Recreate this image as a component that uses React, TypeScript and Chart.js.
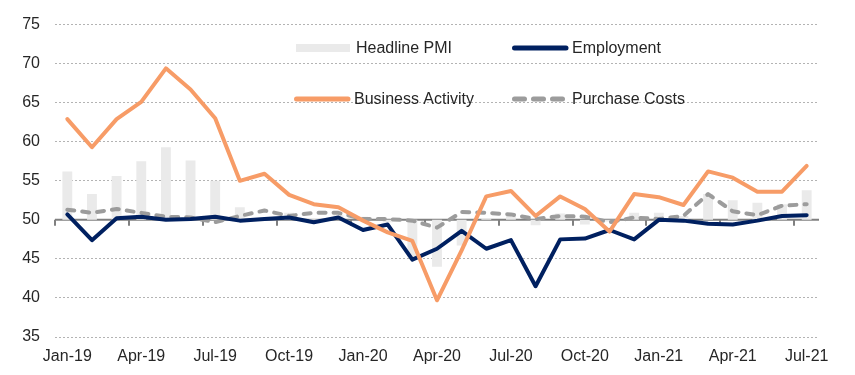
import React, { useEffect, useRef } from "react";
import { Chart, registerables } from "chart.js";

Chart.register(...registerables);

const categories = [
  "Jan-19", "Feb-19", "Mar-19", "Apr-19", "May-19", "Jun-19", "Jul-19", "Aug-19", "Sep-19", "Oct-19", "Nov-19", "Dec-19",
  "Jan-20", "Feb-20", "Mar-20", "Apr-20", "May-20", "Jun-20", "Jul-20", "Aug-20", "Sep-20", "Oct-20", "Nov-20", "Dec-20",
  "Jan-21", "Feb-21", "Mar-21", "Apr-21", "May-21", "Jun-21", "Jul-21",
];

const headlinePMI = [
  56.2, 53.3, 55.6, 57.5, 59.3, 57.6, 55.0, 51.6, 50.3, 50.9, 50.2, 50.6,
  50.4, 49.7, 45.2, 44.0, 46.7, 50.2, 50.5, 49.3, 50.8, 49.4, 49.8, 50.9,
  50.9, 50.5, 53.3, 52.5, 52.2, 52.0, 53.8,
];

const employment = [
  50.7, 47.4, 50.2, 50.4, 50.0, 50.1, 50.4, 49.9, 50.1, 50.3, 49.7, 50.3,
  48.7, 49.4, 44.9, 46.3, 48.6, 46.3, 47.4, 41.5, 47.5, 47.6, 48.7, 47.5,
  50.0, 49.9, 49.5, 49.4, 49.9, 50.5, 50.6,
];

const businessActivity = [
  62.9, 59.3, 62.9, 65.1, 69.4, 66.7, 63.0, 55.0, 55.9, 53.2, 52.0, 51.6,
  49.9, 48.4, 47.3, 39.7, 46.1, 53.0, 53.7, 50.5, 53.0, 51.4, 48.5, 53.3,
  52.9, 51.9, 56.2, 55.4, 53.6, 53.6, 56.9,
];

const purchaseCosts = [
  51.3, 50.9, 51.4, 50.9, 50.4, 50.3, 49.7, 50.5, 51.2, 50.5, 50.9, 50.9,
  50.1, 50.1, 49.9, 49.0, 51.0, 50.9, 50.7, 50.1, 50.5, 50.4, 49.7, 50.3,
  50.1, 50.5, 53.3, 51.1, 50.6, 51.8, 52.0,
];

const baseline = 50;
const yMin = 35;
const yMax = 75;
const yStep = 5;
const labelEvery = 3;

const FONT = "'Liberation Sans', Arial, sans-serif";
const TEXT = "#262626";
const C_BAR = "#eaeaea";
const C_EMP = "#002060";
const C_BUS = "#f79c67";
const C_PUR = "#9c9c9c";

const axisLinePlugin = {
  id: "axisLine",
  beforeDatasetsDraw(chart: any) {
    const { ctx, chartArea, scales } = chart;
    const x = scales.x;
    const y = scales.y;
    const yy = y.getPixelForValue(baseline);
    const step = x.getPixelForValue(1) - x.getPixelForValue(0);
    ctx.save();
    ctx.strokeStyle = "#808080";
    ctx.lineWidth = 2;
    ctx.beginPath();
    ctx.moveTo(chartArea.left, yy);
    ctx.lineTo(chartArea.right, yy);
    ctx.stroke();
    for (let k = 0; k < categories.length; k += labelEvery) {
      const px = Math.round(x.getPixelForValue(k) - step / 2);
      ctx.beginPath();
      ctx.moveTo(px, yy);
      ctx.lineTo(px, yy + 6);
      ctx.stroke();
    }
    ctx.restore();
  },
};

const legendPlugin = {
  id: "customLegend",
  afterDraw(chart: any) {
    const { ctx } = chart;
    const ds = chart.data.datasets;
    const find = (l: string) => ds.find((d: any) => d.label === l);
    const items = [
      { d: find("Headline PMI"), kind: "bar", x: 296, y: 48 },
      { d: find("Employment"), kind: "line", x: 512, y: 48 },
      { d: find("Business Activity"), kind: "line", x: 294, y: 99 },
      { d: find("Purchase Costs"), kind: "dash", x: 512, y: 99 },
    ];
    ctx.save();
    ctx.font = `16px ${FONT}`;
    ctx.textBaseline = "middle";
    ctx.textAlign = "left";
    for (const it of items) {
      if (it.kind === "bar") {
        ctx.fillStyle = it.d.backgroundColor;
        ctx.fillRect(it.x, it.y - 4, 54, 8);
      } else {
        ctx.strokeStyle = it.d.borderColor;
        ctx.lineWidth = 5;
        ctx.lineCap = "round";
        ctx.beginPath();
        if (it.kind === "dash") {
          ctx.setLineDash([10, 9]);
          ctx.moveTo(it.x + 2.5, it.y);
          ctx.lineTo(it.x + 51, it.y);
        } else {
          ctx.setLineDash([]);
          ctx.moveTo(it.x + 2.5, it.y);
          ctx.lineTo(it.x + 54, it.y);
        }
        ctx.stroke();
        ctx.setLineDash([]);
      }
      ctx.fillStyle = TEXT;
      ctx.fillText(it.d.label, it.x + 60, it.y + 1);
    }
    ctx.restore();
  },
};

export default function App() {
  const ref = useRef<HTMLCanvasElement | null>(null);

  useEffect(() => {
    if (!ref.current) return;
    const chart = new Chart(ref.current, {
      type: "bar",
      data: {
        labels: categories,
        datasets: [
          {
            type: "line",
            label: "Business Activity",
            data: businessActivity,
            borderColor: C_BUS,
            backgroundColor: C_BUS,
            borderWidth: 4,
            pointRadius: 0,
            tension: 0,
            borderJoinStyle: "round",
            borderCapStyle: "round",
          },
          {
            type: "line",
            label: "Employment",
            data: employment,
            borderColor: C_EMP,
            backgroundColor: C_EMP,
            borderWidth: 4,
            pointRadius: 0,
            tension: 0,
            borderJoinStyle: "round",
            borderCapStyle: "round",
          },
          {
            type: "line",
            label: "Purchase Costs",
            data: purchaseCosts,
            borderColor: C_PUR,
            backgroundColor: C_PUR,
            borderWidth: 4,
            borderDash: [7, 8],
            borderCapStyle: "round",
            borderJoinStyle: "round",
            pointRadius: 0,
            tension: 0,
          },
          {
            type: "bar",
            label: "Headline PMI",
            data: headlinePMI.map((v) => [baseline, v]),
            backgroundColor: C_BAR,
            borderWidth: 0,
            barPercentage: 0.4,
            categoryPercentage: 1,
          },
        ] as any,
      },
      options: {
        responsive: false,
        animation: false,
        events: [],
        layout: { padding: { left: 0, right: 36, top: 23, bottom: 0 } },
        plugins: {
          legend: { display: false },
          tooltip: { enabled: false },
        },
        scales: {
          x: {
            type: "category",
            offset: true,
            grid: { display: false, drawTicks: false },
            border: { display: false },
            ticks: {
              autoSkip: false,
              maxRotation: 0,
              minRotation: 0,
              padding: 10,
              color: TEXT,
              font: { family: FONT, size: 16 },
              callback: (_v: any, i: number) => (i % labelEvery === 0 ? categories[i] : ""),
            },
            afterFit: (s: any) => {
              s.height = 38;
            },
          },
          y: {
            min: yMin,
            max: yMax,
            grid: { color: "#b3b3b3", lineWidth: 1, drawTicks: false },
            border: { display: false, dash: [2, 2] },
            ticks: {
              stepSize: yStep,
              padding: 15,
              color: TEXT,
              font: { family: FONT, size: 16 },
            },
            afterFit: (s: any) => {
              s.width = 55;
            },
          },
        },
      } as any,
      plugins: [axisLinePlugin, legendPlugin],
    });
    return () => chart.destroy();
  }, []);

  return (
    <div style={{ position: "absolute", left: 0, top: 0, width: 855, height: 375, background: "#fff" }}>
      <canvas ref={ref} width={855} height={375} />
    </div>
  );
}
